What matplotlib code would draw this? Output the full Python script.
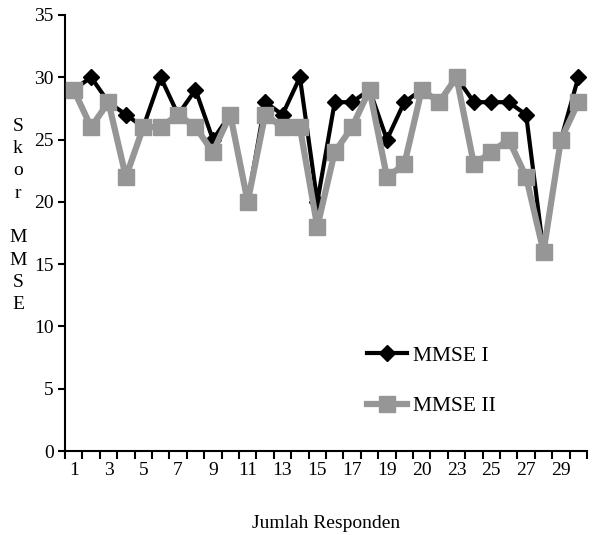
import matplotlib
matplotlib.use("Agg")
import matplotlib.pyplot as plt
import numpy as np

# responden 1..30
responden = np.arange(1, 31)
mmse1 = [29, 30, 28, 27, 26, 30, 27, 29, 25, 27,
         20, 28, 27, 30, 20, 28, 28, 29, 25, 28,
         29, 28, 30, 28, 28, 28, 27, 16, 25, 30]
mmse2 = [29, 26, 28, 22, 26, 26, 27, 26, 24, 27,
         20, 27, 26, 26, 18, 24, 26, 29, 22, 23,
         29, 28, 30, 23, 24, 25, 22, 16, 25, 28]
label_pos = [1, 3, 5, 7, 9, 11, 13, 15, 17, 19, 21, 23, 25, 27, 29]
label_txt = ['1', '3', '5', '7', '9', '11', '13', '15', '17', '19', '20', '23', '25', '27', '29']

plt.rcParams['font.family'] = ['Liberation Serif', 'DejaVu Serif']

fig = plt.figure(figsize=(5.99, 5.35), dpi=100)
ax = fig.add_axes([0.1085, 0.157, 0.8715, 0.815])

ax.plot(responden, mmse1, color='black', lw=3, marker='D', ms=8.5,
        label='MMSE I', zorder=3)
ax.plot(responden, mmse2, color='#969696', lw=4.5, marker='s', ms=11.5,
        label='MMSE II', zorder=4)

ax.set_xlim(0.5, 30.5)
ax.set_ylim(0, 35)
ax.set_yticks(np.arange(0, 36, 5))
ax.set_xticks(label_pos)
ax.set_xticklabels(label_txt)
ax.set_xticks(np.arange(0.5, 31, 1), minor=True)
ax.tick_params(axis='x', which='major', length=0, pad=8, labelsize=14)
ax.tick_params(axis='x', which='minor', length=6, width=1.5, direction='out')
ax.tick_params(axis='y', length=5, width=1.5, direction='out', pad=3, labelsize=14)

for s in ['top', 'right']:
    ax.spines[s].set_visible(False)
for s in ['left', 'bottom']:
    ax.spines[s].set_linewidth(1.5)

ax.set_xlabel('Jumlah Responden', fontsize=14, labelpad=26)
fig.text(0.03, 0.597, "\n".join(list("Skor")) + "\n\n" + "\n".join(list("MMSE")),
         ha='center', va='center', fontsize=14, linespacing=1.41)

ax.legend(loc='center left', bbox_to_anchor=(0.612, 0.288), bbox_transform=fig.transFigure,
          frameon=False, fontsize=15.5, handlelength=1.9, handletextpad=0.25,
          labelspacing=1.4, borderpad=0, borderaxespad=0)

fig.savefig('out.png', dpi=100)
